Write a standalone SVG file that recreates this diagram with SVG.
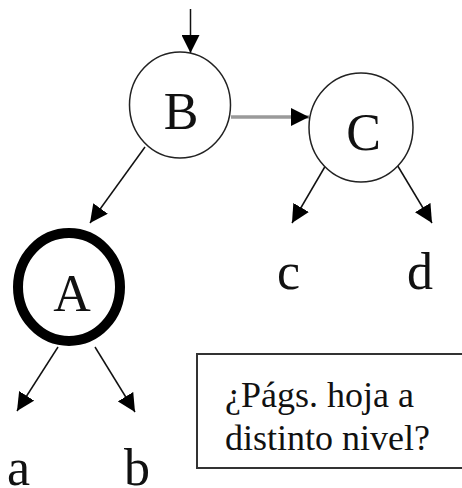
<svg xmlns="http://www.w3.org/2000/svg" width="462" height="488" viewBox="0 0 462 488">
<style>
.node{fill:#fff;stroke:#222;stroke-width:1.5}
.bold{fill:#fff;stroke:#000;stroke-width:10}
.lbl{font-family:"Liberation Serif","Times New Roman",serif;font-size:52px;fill:#111;text-anchor:middle}
.note{font-family:"Liberation Serif","Times New Roman",serif;font-size:36px;fill:#111}
.edge{stroke:#111;stroke-width:1.5;fill:none;marker-end:url(#ah)}
.gray{stroke:#9a9a9a;stroke-width:3.5;fill:none;marker-end:url(#ah)}
</style>
<defs>
<marker id="ah" markerUnits="userSpaceOnUse" markerWidth="18" markerHeight="18" refX="18" refY="9" orient="auto" viewBox="0 0 18 18">
<path d="M0,0 L18,9 L0,18 z" fill="#000"/>
</marker>
</defs>
<rect width="462" height="488" fill="#fff"/>
<g id="connectors">
<line class="edge" x1="190.5" y1="9" x2="190.5" y2="53"/>
<line class="gray" x1="231" y1="117" x2="309" y2="117"/>
<line class="edge" x1="145" y1="147" x2="90" y2="223"/>
<line class="edge" x1="330" y1="158" x2="292" y2="223"/>
<line class="edge" x1="393" y1="158" x2="432" y2="223"/>
<line class="edge" x1="58" y1="347" x2="17" y2="411"/>
<line class="edge" x1="95" y1="347" x2="135" y2="412"/>
</g>
<g id="node-B">
<ellipse class="node" cx="180" cy="105" rx="50.5" ry="53"/>
<text class="lbl" x="181" y="129">B</text>
</g>
<g id="node-C">
<ellipse class="node" cx="361" cy="127.5" rx="52" ry="54.5"/>
<text class="lbl" x="363.5" y="150">C</text>
</g>
<g id="node-A">
<ellipse class="bold" cx="69" cy="287" rx="51" ry="54"/>
<text class="lbl" x="72" y="311">A</text>
</g>
<g id="leaf-c"><text class="lbl" x="288.5" y="289">c</text></g>
<g id="leaf-d"><text class="lbl" x="420" y="289">d</text></g>
<g id="leaf-a"><text class="lbl" x="18.5" y="485">a</text></g>
<g id="leaf-b"><text class="lbl" x="137" y="485">b</text></g>
<g id="note">
<rect x="197" y="354" width="275" height="114" fill="#fff" stroke="#333" stroke-width="2"/>
<text class="note" x="225" y="407">¿Págs. hoja a</text>
<text class="note" x="225" y="450">distinto nivel?</text>
</g>
</svg>
